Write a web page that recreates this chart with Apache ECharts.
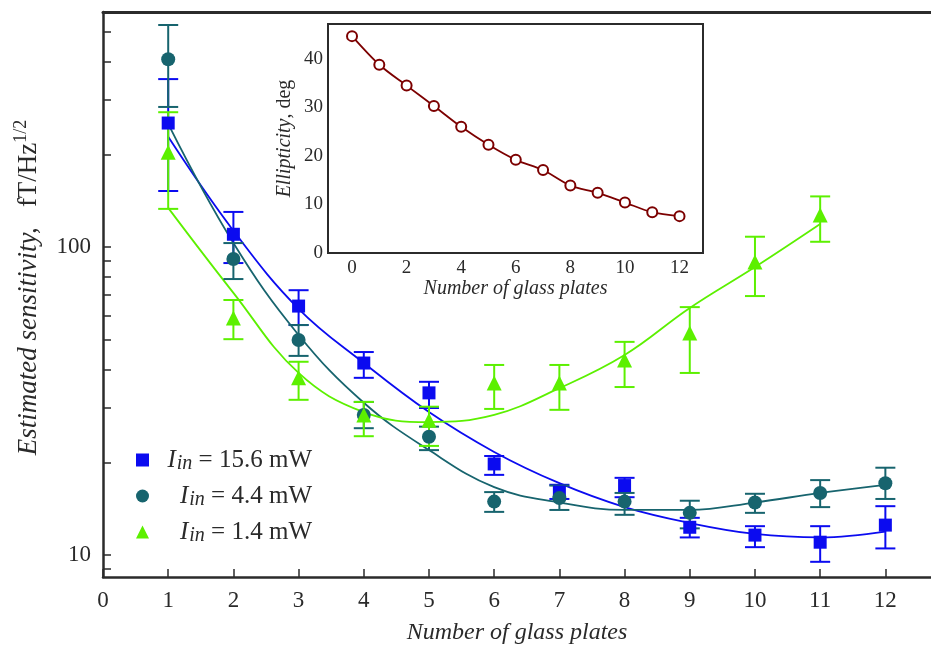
<!DOCTYPE html>
<html><head><meta charset="utf-8">
<script src="https://cdn.jsdelivr.net/npm/echarts@6/dist/echarts.min.js"></script>
<style>html,body{margin:0;padding:0;background:#fff}#c{width:931px;height:646px}</style>
</head><body><div id="c"></div>
<script>
// ---- main chart data ----
const plates = [1,2,3,4,5,6,7,8,9,10,11,12];
const platesGreen = [1,2,3,4,5,6,7,8,9,10,11];
const blueVal = [252.7,110,64.3,42.0,33.6,19.75,16.0,16.8,12.3,11.6,11.0,12.5];
const blueLo  = [152,88.7,55.8,37.6,30.0,18.2,15.2,15.4,11.4,10.6,9.5,10.5];
const blueHi  = [351,130,72.4,45.6,36.5,20.96,16.9,17.8,13.2,12.4,12.4,14.4];
const blueFit = [228,113,63,42,29.1,21.6,17.1,14.3,12.7,11.7,11.4,11.9];
const tealVal = [407,91.4,49.9,28.5,24.2,14.9,15.3,14.9,13.7,14.8,15.9,17.1];
const tealLo  = [285,78.7,44.3,25.8,21.9,13.8,14.0,13.5,12.2,13.7,14.3,15.2];
const tealHi  = [526,103,55.8,31.4,26.1,16.0,16.8,15.9,15.0,15.8,17.5,19.2];
const tealFit = [251,103,51.8,31.2,21.9,16.6,14.8,14.0,14.0,14.8,15.9,16.9];
const greenVal = [203,58.8,37.6,28.5,27.4,36.2,36.2,43.0,52.6,89.4,127];
const greenLo  = [133,50.2,31.9,24.3,22.6,29.8,29.6,35.1,39.0,69.3,104];
const greenHi  = [274,67.3,42.4,31.4,30.3,41.4,41.4,49.2,63.8,108,146];
const greenFit = [134,71,39.0,29.1,27.0,28.5,34.8,44.6,63.4,86.1,118.8];
const xTickLabels = [0,1,2,3,4,5,6,7,8,9,10,11,12];
const yTickValues = [9,10,20,30,40,50,60,70,80,90,100,200,300,400,500];
const yLabelValues = [10,100];
// ---- inset data ----
const insetPlates = [0,1,2,3,4,5,6,7,8,9,10,11,12];
const ellipticity = [44.7,38.8,34.5,30.3,26.0,22.3,19.2,17.1,13.9,12.4,10.4,8.4,7.6];
const insetXMajor = [0,1,2,3,4,5,6,7,8,9,10,11,12];
const insetXMinor = [-0.5,0.5,1.5,2.5,3.5,4.5,5.5,6.5,7.5,8.5,9.5,10.5,11.5,12.5];
const insetXLabels = [0,2,4,6,8,10,12];

const BLUE = '#0b0bf0', TEAL = '#17646e', GREEN = '#5cf000', RED = '#7c0000';
const FONT = 'Liberation Serif', TXT = '#2a2a2a', AX = '#2b2b2b';
const Y_MIN = 8.48, Y_MAX = 579.7;
const X_MAX = 12.7;

const zip = (xs, ys) => xs.map((x, i) => [x, ys[i]]);
const zip3 = (xs, a, b) => xs.map((x, i) => [x, a[i], b[i]]);

function errRender(color) {
  return function (params, api) {
    const x = api.value(0), lo = api.value(1), hi = api.value(2);
    const pL = api.coord([x, lo]), pH = api.coord([x, hi]);
    const w = 10;
    const st = { stroke: color, lineWidth: 2 };
    return { type: 'group', children: [
      { type: 'line', shape: { x1: pL[0], y1: pL[1], x2: pH[0], y2: pH[1] }, style: st },
      { type: 'line', shape: { x1: pL[0]-w, y1: pL[1], x2: pL[0]+w, y2: pL[1] }, style: st },
      { type: 'line', shape: { x1: pH[0]-w, y1: pH[1], x2: pH[0]+w, y2: pH[1] }, style: st }
    ]};
  };
}

const legendNames = { s1: '15.6', s2: '4.4', s3: '1.4' };

const chart = echarts.init(document.getElementById('c'));
chart.setOption({
  animation: false,
  backgroundColor: '#fff',
  textStyle: { fontFamily: FONT, color: TXT },
  grid: [
    { left: 103, top: 12, right: 0, bottom: 69, outerBoundsMode: 'none', containLabel: false },
    { left: 328, top: 24, width: 375, height: 229, outerBoundsMode: 'none', containLabel: false, show: true, backgroundColor: '#fff', borderColor: AX, borderWidth: 2, z: 5 }
  ],
  legend: {
    orient: 'vertical', left: 131, top: 441, itemGap: 8,
    itemWidth: 13, itemHeight: 13,
    data: [{ name: 's1', icon: 'rect' }, { name: 's2', icon: 'circle' }, { name: 's3', icon: 'triangle' }],
    formatter: n => '{i|I}{s|in}{n| = ' + legendNames[n] + ' mW}',
    textStyle: {
      width: 158, fontFamily: FONT, color: TXT,
      rich: {
        i: { fontSize: 25, fontStyle: 'italic', fontFamily: FONT, color: TXT, align: 'right', lineHeight: 28 },
        s: { fontSize: 20, fontStyle: 'italic', fontFamily: FONT, color: TXT, align: 'right', verticalAlign: 'bottom', lineHeight: 28, padding: [8, 0, 0, 1] },
        n: { fontSize: 25, fontFamily: FONT, color: TXT, align: 'right', lineHeight: 28 }
      }
    }
  },
  xAxis: [
    { gridIndex: 0, type: 'value', min: 0, max: X_MAX, position: 'bottom',
      axisLine: { lineStyle: { color: AX, width: 2.5 } },
      axisTick: { inside: true, length: 8, lineStyle: { color: AX, width: 1.5 }, customValues: xTickLabels },
      axisLabel: { fontSize: 23, color: TXT, fontFamily: FONT, margin: 12, customValues: xTickLabels },
      splitLine: { show: false },
      name: 'Number of glass plates', nameLocation: 'middle', nameGap: 44,
      nameTextStyle: { fontSize: 24, fontStyle: 'italic', fontFamily: FONT, color: TXT }
    },
    { gridIndex: 0, type: 'value', min: 0, max: X_MAX, position: 'top',
      axisLine: { lineStyle: { color: AX, width: 3 } },
      axisTick: { show: false }, axisLabel: { show: false }, splitLine: { show: false } },
    { gridIndex: 1, type: 'value', min: -0.88, max: 12.86, position: 'bottom',
      axisLine: { lineStyle: { color: AX, width: 2 } },
      axisTick: { inside: true, length: 7, lineStyle: { color: AX, width: 1.5 }, customValues: insetXMajor },
      axisLabel: { fontSize: 19, color: TXT, fontFamily: FONT, margin: 6, customValues: insetXLabels },
      splitLine: { show: false },
      name: 'Number of glass plates', nameLocation: 'middle', nameGap: 26,
      nameTextStyle: { fontSize: 20, fontStyle: 'italic', fontFamily: FONT, color: TXT }
    },
    { gridIndex: 1, type: 'value', min: -0.88, max: 12.86, position: 'bottom',
      axisLine: { show: false },
      axisTick: { inside: true, length: 4, lineStyle: { color: AX, width: 1.5 }, customValues: insetXMinor },
      axisLabel: { show: false }, splitLine: { show: false } }
  ],
  yAxis: [
    { gridIndex: 0, type: 'log', logBase: 10, min: Y_MIN, max: Y_MAX, position: 'left',
      axisLine: { show: true, lineStyle: { color: AX, width: 2.5 } },
      axisTick: { show: false }, axisLabel: { show: false }, splitLine: { show: false }, minorTick: { show: false } },
    { gridIndex: 0, type: 'value', min: Math.log10(Y_MIN), max: Math.log10(Y_MAX), position: 'left',
      axisLine: { show: false },
      axisTick: { show: true, inside: true, length: 8, lineStyle: { color: AX, width: 1.5 }, customValues: yTickValues.map(v => Math.log10(v)) },
      axisLabel: { fontSize: 23, color: TXT, fontFamily: FONT, margin: 12, customValues: yLabelValues.map(v => Math.log10(v)),
        formatter: v => String(Math.round(Math.pow(10, v))) },
      splitLine: { show: false },
      name: '{it|Estimated sensitivity,}{n|   fT/Hz}{sup|1/2}', nameLocation: 'middle', nameRotate: 90, nameGap: 57,
      nameTextStyle: { padding: [0, 0, 0, 14], rich: {
        it: { fontSize: 27, fontStyle: 'italic', fontFamily: FONT, color: TXT, lineHeight: 34 },
        n: { fontSize: 27, fontFamily: FONT, color: TXT, lineHeight: 34 },
        sup: { fontSize: 18, fontFamily: FONT, color: TXT, verticalAlign: 'top', lineHeight: 34 }
      } }
    },
    { gridIndex: 1, type: 'value', min: 0, max: 47.2, interval: 5, position: 'left',
      axisLine: { lineStyle: { color: AX, width: 2 } },
      axisTick: { inside: true, length: 7, lineStyle: { color: AX, width: 1.5 } },
      axisLabel: { fontSize: 19, color: TXT, fontFamily: FONT, margin: 5,
        formatter: v => (Math.abs(v % 10) < 1e-6 ? String(v) : '') },
      splitLine: { show: false },
      name: '{it|Ellipticity}{n|, deg}', nameLocation: 'middle', nameRotate: 90, nameGap: 33,
      nameTextStyle: { rich: {
        it: { fontSize: 20, fontStyle: 'italic', fontFamily: FONT, color: TXT },
        n: { fontSize: 20, fontFamily: FONT, color: TXT }
      } }
    }
  ],
  series: [
    { type: 'line', name: 'fitBlue', xAxisIndex: 0, yAxisIndex: 0, data: zip(plates, blueFit), smooth: 0.4, showSymbol: false, silent: true, lineStyle: { color: BLUE, width: 1.8 }, z: 2 },
    { type: 'line', name: 'fitTeal', xAxisIndex: 0, yAxisIndex: 0, data: zip(plates, tealFit), smooth: 0.4, showSymbol: false, silent: true, lineStyle: { color: TEAL, width: 1.8 }, z: 2 },
    { type: 'line', name: 'fitGreen', xAxisIndex: 0, yAxisIndex: 0, data: zip(platesGreen, greenFit), smooth: 0.4, showSymbol: false, silent: true, lineStyle: { color: GREEN, width: 1.8 }, z: 2 },
    { type: 'custom', name: 'errBlue', xAxisIndex: 0, yAxisIndex: 0, data: zip3(plates, blueLo, blueHi), renderItem: errRender(BLUE), encode: { x: 0, y: [1, 2] }, silent: true, z: 3 },
    { type: 'custom', name: 'errTeal', xAxisIndex: 0, yAxisIndex: 0, data: zip3(plates, tealLo, tealHi), renderItem: errRender(TEAL), encode: { x: 0, y: [1, 2] }, silent: true, z: 3 },
    { type: 'custom', name: 'errGreen', xAxisIndex: 0, yAxisIndex: 0, data: zip3(platesGreen, greenLo, greenHi), renderItem: errRender(GREEN), encode: { x: 0, y: [1, 2] }, silent: true, z: 3 },
    { type: 'scatter', name: 's1', xAxisIndex: 0, yAxisIndex: 0, data: zip(plates, blueVal), symbol: 'rect', symbolSize: 13, itemStyle: { color: BLUE, opacity: 1 }, z: 4 },
    { type: 'scatter', name: 's2', xAxisIndex: 0, yAxisIndex: 0, data: zip(plates, tealVal), symbol: 'circle', symbolSize: 14, itemStyle: { color: TEAL, opacity: 1 }, z: 4 },
    { type: 'scatter', name: 's3', xAxisIndex: 0, yAxisIndex: 0, data: zip(platesGreen, greenVal), symbol: 'triangle', symbolSize: 15, itemStyle: { color: GREEN, opacity: 1 }, z: 4 },
    { type: 'line', name: 'ellipticity', xAxisIndex: 2, yAxisIndex: 2, data: zip(insetPlates, ellipticity), smooth: 0.3,
      symbol: 'circle', symbolSize: 10, showSymbol: true,
      itemStyle: { color: '#fff', borderColor: RED, borderWidth: 2 },
      lineStyle: { color: RED, width: 1.8 }, z: 6 }
  ]
});
</script>
</body></html>
